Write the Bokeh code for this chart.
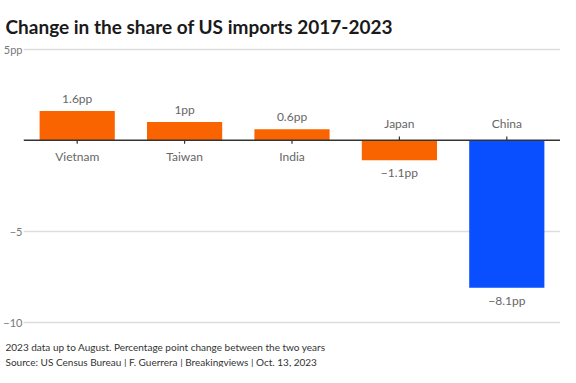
import numpy as np
from bokeh.plotting import figure
from bokeh.models import ColumnDataSource, FactorRange, Range1d, Span, FixedTicker, Title
from bokeh.core.properties import value
from bokeh.embed import file_html
from bokeh.resources import INLINE

countries = ["Vietnam", "Taiwan", "India", "Japan", "China"]
changes = [1.6, 1.0, 0.6, -1.1, -8.1]
value_labels = ["1.6pp", "1pp", "0.6pp", "\u22121.1pp", "\u22128.1pp"]
bar_colors = ["#fa6400", "#fa6400", "#fa6400", "#fa6400", "#0a4fff"]
y_ticks = [5, -5, -10]
y_tick_labels = ["5pp", "\u22125", "\u221210"]
notes = ["2023 data up to August. Percentage point change between the two years",
         "Source: US Census Bureau | F. Guerrera | Breakingviews | Oct. 13, 2023"]

vals = np.array(changes)
pos = vals >= 0
src = ColumnDataSource(dict(
    country=countries,
    change=changes,
    zero=[0] * len(countries),
    label=value_labels,
    color=bar_colors,
    tick_end=np.where(pos, -0.2, 0.2),
    cat_off=np.where(pos, 9, -9),
    cat_base=np.where(pos, "top", "bottom"),
    val_off=np.where(pos, -5, 5),
    val_base=np.where(pos, "bottom", "top"),
))

FONT = "Lato"

p = figure(width=560, height=367, x_range=FactorRange(*countries, range_padding=0),
           y_range=Range1d(-11.11, 5.2), output_backend="svg", toolbar_location=None,
           x_axis_location=None,
           min_border_left=0, min_border_right=0, min_border_top=45, min_border_bottom=0,
           outline_line_color=None)

p.title.text = "Change in the share of US imports 2017-2023"
p.title.text_font = FONT
p.title.text_font_size = "19px"
p.title.text_font_style = "bold"
p.title.text_color = "#1a1a1a"
p.title.align = "left"
p.title.offset = -18
p.title.standoff = 15

p.vbar(x="country", top="change", bottom=0, width=0.7, fill_color="color",
       line_color=None, source=src)

p.add_layout(Span(location=0, dimension="width", line_color="#333333", line_width=1.5))
p.segment(x0="country", x1="country", y0="zero", y1="tick_end", line_color="#333333",
          line_width=1.2, source=src)

p.text(x="country", y="zero", text="country", y_offset="cat_off", text_baseline="cat_base",
       text_align="center", text_font=value(FONT), text_font_size="12px", text_color="#666666",
       source=src)
p.text(x="country", y="change", text="label", y_offset="val_off", text_baseline="val_base",
       text_align="center", text_font=value(FONT), text_font_size="12px", text_color="#666666",
       source=src)

p.xgrid.grid_line_color = None
p.ygrid.grid_line_color = "#dddddd"
p.ygrid.grid_line_width = 1.5
p.yaxis.ticker = FixedTicker(ticks=y_ticks)
p.yaxis.major_label_overrides = dict(zip(y_ticks, y_tick_labels))
p.yaxis.axis_line_color = None
p.yaxis.major_tick_line_color = None
p.yaxis.minor_tick_line_color = None
p.yaxis.major_tick_out = 0
p.yaxis.major_tick_in = 0
p.yaxis.major_label_standoff = 1
p.yaxis.major_label_text_font = FONT
p.yaxis.major_label_text_font_size = "11px"
p.yaxis.major_label_text_color = "#777777"
p.ygrid.ticker = FixedTicker(ticks=y_ticks)

note = Title(text="\n".join(notes), text_font=FONT, text_font_size="10px",
             text_font_style="normal", text_color="#333333", align="left", offset=-18,
             text_line_height=1.25, vertical_align="top")
try:
    note.standoff = -4
except Exception:
    note.standoff = 0
p.add_layout(note, "below")

open("out.html", "w").write(file_html(p, INLINE))
